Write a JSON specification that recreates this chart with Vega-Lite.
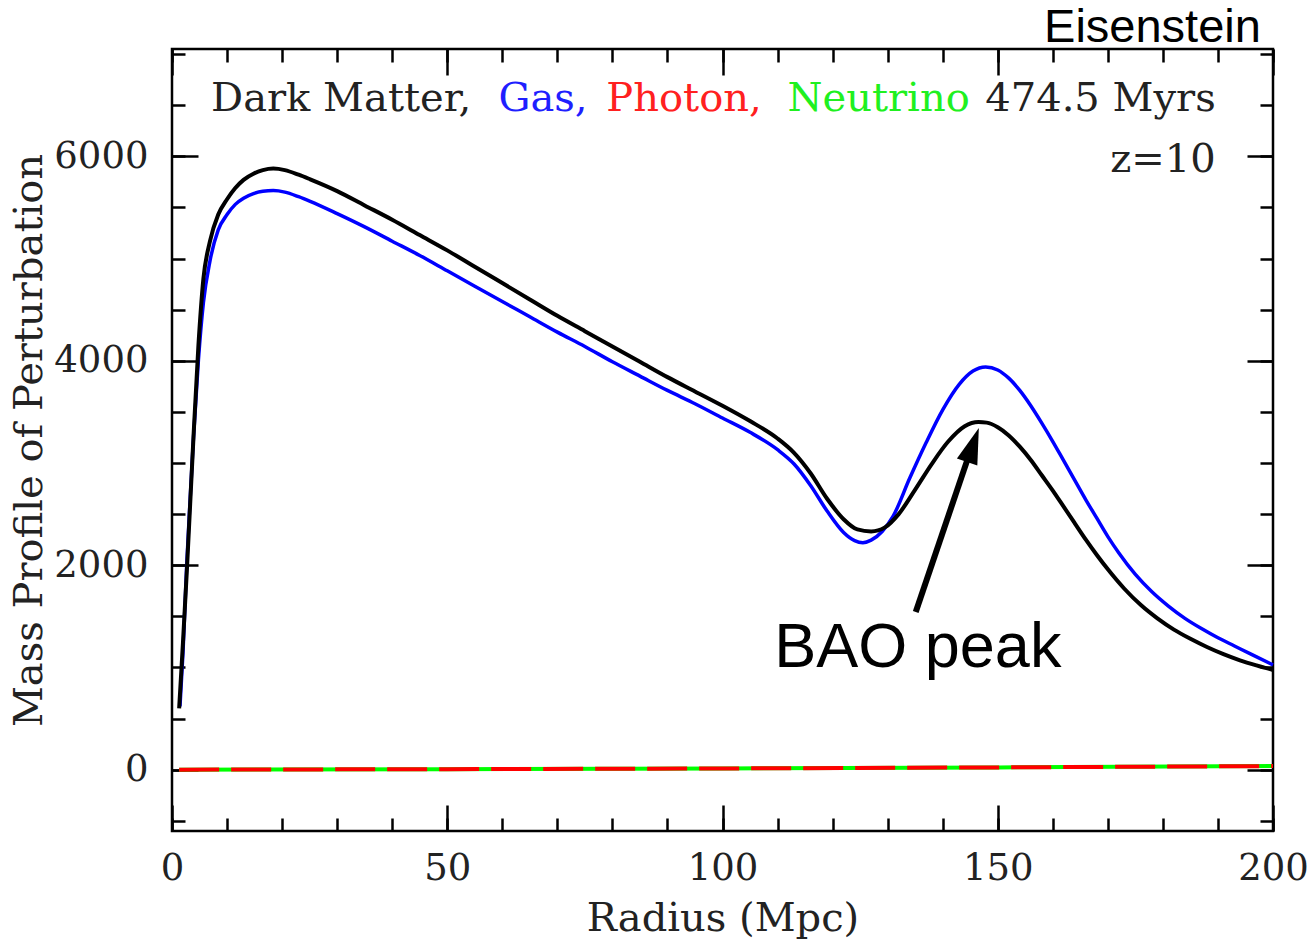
{
  "$schema": "https://vega.github.io/schema/vega-lite/v6.json",
  "width": 1101,
  "height": 782,
  "autosize": "none",
  "padding": {"left": 172, "top": 49, "right": 40, "bottom": 111},
  "background": "white",
  "config": {
    "view": {"stroke": "#000", "strokeWidth": 2.5},
    "axis": {
      "domain": false, "grid": false,
      "labelFont": "DejaVu Serif", "titleFont": "DejaVu Serif",
      "labelColor": "#222", "titleColor": "#222",
      "labelFontWeight": "normal", "titleFontWeight": "normal",
      "tickColor": "#000", "tickWidth": 2.5,
      "labelOverlap": false, "labelFlush": false, "format": "d"
    }
  },
  "datasets": {
    "dm": [
      {"r": 1.3, "v": 600}, {"r": 2.0, "v": 1250}, {"r": 2.7, "v": 1950}, {"r": 3.3, "v": 2600},
      {"r": 3.9, "v": 3250}, {"r": 4.8, "v": 4150}, {"r": 5.7, "v": 4800}, {"r": 6.9, "v": 5170},
      {"r": 8.4, "v": 5430}, {"r": 10, "v": 5580}, {"r": 11.5, "v": 5690}, {"r": 13, "v": 5770},
      {"r": 14.8, "v": 5830}, {"r": 16.5, "v": 5865}, {"r": 18.4, "v": 5880}, {"r": 20.5, "v": 5865},
      {"r": 23, "v": 5820}, {"r": 25.1, "v": 5775}, {"r": 30, "v": 5660}, {"r": 35, "v": 5520}, {"r": 40, "v": 5380},
      {"r": 45, "v": 5230}, {"r": 50, "v": 5080}, {"r": 55, "v": 4920}, {"r": 60, "v": 4760},
      {"r": 65, "v": 4600}, {"r": 70, "v": 4440}, {"r": 75, "v": 4290}, {"r": 80, "v": 4140},
      {"r": 85, "v": 3990}, {"r": 90, "v": 3840}, {"r": 95, "v": 3700}, {"r": 100, "v": 3560},
      {"r": 105, "v": 3410}, {"r": 110, "v": 3240}, {"r": 113, "v": 3100}, {"r": 116, "v": 2900},
      {"r": 119, "v": 2650}, {"r": 122, "v": 2450}, {"r": 124.5, "v": 2350}, {"r": 127, "v": 2330},
      {"r": 129.5, "v": 2370}, {"r": 132, "v": 2500}, {"r": 135, "v": 2740}, {"r": 138, "v": 2990},
      {"r": 141, "v": 3210}, {"r": 144, "v": 3360}, {"r": 146.5, "v": 3400}, {"r": 148, "v": 3395},
      {"r": 150, "v": 3350}, {"r": 152, "v": 3270}, {"r": 154, "v": 3160}, {"r": 156, "v": 3030},
      {"r": 158, "v": 2880}, {"r": 160, "v": 2730}, {"r": 162, "v": 2570}, {"r": 164, "v": 2410},
      {"r": 166, "v": 2250}, {"r": 168, "v": 2100}, {"r": 170, "v": 1960}, {"r": 173, "v": 1770},
      {"r": 176, "v": 1610}, {"r": 179, "v": 1480}, {"r": 182, "v": 1370}, {"r": 185, "v": 1280},
      {"r": 188, "v": 1200}, {"r": 191, "v": 1130}, {"r": 194, "v": 1070}, {"r": 197, "v": 1020},
      {"r": 200, "v": 975}
    ],
    "gas": [
      {"r": 1.45, "v": 620}, {"r": 2.0, "v": 1150}, {"r": 2.67, "v": 2000}, {"r": 3.3, "v": 2650},
      {"r": 3.88, "v": 3225}, {"r": 4.8, "v": 4008}, {"r": 5.7, "v": 4566}, {"r": 6.9, "v": 4977},
      {"r": 8.4, "v": 5280}, {"r": 10, "v": 5430}, {"r": 11.5, "v": 5530}, {"r": 13, "v": 5590},
      {"r": 14.8, "v": 5635}, {"r": 16.5, "v": 5658}, {"r": 18.4, "v": 5665}, {"r": 20.5, "v": 5650},
      {"r": 23, "v": 5605}, {"r": 25.1, "v": 5560}, {"r": 30, "v": 5440}, {"r": 35, "v": 5310},
      {"r": 40, "v": 5170}, {"r": 45, "v": 5030}, {"r": 50, "v": 4880}, {"r": 55, "v": 4730},
      {"r": 60, "v": 4580}, {"r": 65, "v": 4430}, {"r": 70, "v": 4280}, {"r": 75, "v": 4140},
      {"r": 80, "v": 3990}, {"r": 85, "v": 3850}, {"r": 90, "v": 3710}, {"r": 95, "v": 3580},
      {"r": 100, "v": 3440}, {"r": 105, "v": 3300}, {"r": 110, "v": 3130}, {"r": 113, "v": 2990},
      {"r": 116, "v": 2780}, {"r": 119, "v": 2530}, {"r": 122, "v": 2320}, {"r": 124, "v": 2240},
      {"r": 125.5, "v": 2220}, {"r": 127, "v": 2245}, {"r": 129, "v": 2330}, {"r": 131, "v": 2480},
      {"r": 134, "v": 2850}, {"r": 137, "v": 3200}, {"r": 140, "v": 3520}, {"r": 143, "v": 3770},
      {"r": 145.5, "v": 3900}, {"r": 147.8, "v": 3940}, {"r": 150, "v": 3910}, {"r": 152, "v": 3830},
      {"r": 154, "v": 3710}, {"r": 156, "v": 3560}, {"r": 158, "v": 3390}, {"r": 160, "v": 3210},
      {"r": 162, "v": 3020}, {"r": 164, "v": 2830}, {"r": 166, "v": 2640}, {"r": 168, "v": 2460},
      {"r": 170, "v": 2280}, {"r": 172, "v": 2120}, {"r": 175, "v": 1910}, {"r": 178, "v": 1740},
      {"r": 181, "v": 1600}, {"r": 184, "v": 1480}, {"r": 187, "v": 1380}, {"r": 190, "v": 1290},
      {"r": 193, "v": 1210}, {"r": 196, "v": 1130}, {"r": 200, "v": 1025}
    ],
    "photon": [
      {"r": 1.3, "v": 0}, {"r": 50, "v": 5}, {"r": 100, "v": 12}, {"r": 150, "v": 22}, {"r": 200, "v": 35}
    ],
    "one": [{}]
  },
  "layer": [
    {
      "data": {"name": "photon"},
      "mark": {"type": "line", "color": "#00ff00", "strokeWidth": 4},
      "encoding": {
        "x": {"field": "r", "type": "quantitative", "scale": {"domain": [0, 200], "nice": false, "zero": false},
          "axis": {"orient": "bottom", "values": [0, 50, 100, 150, 200], "ticks": false, "labelFontSize": 37, "labelPadding": 19,
            "title": "Radius (Mpc)", "titleFontSize": 40, "titlePadding": 12}},
        "y": {"field": "v", "type": "quantitative", "scale": {"domain": [-600, 7050], "nice": false, "zero": false},
          "axis": {"orient": "left", "values": [0, 2000, 4000, 6000], "ticks": false, "labelFontSize": 37, "labelPadding": 24,
            "title": "Mass Profile of Perturbation", "titleFontSize": 40, "titlePadding": 4}}
      }
    },
    {
      "data": {"name": "photon"},
      "mark": {"type": "line", "color": "#ff0000", "strokeWidth": 4, "strokeDash": [40, 12]},
      "encoding": {
        "x": {"field": "r", "type": "quantitative", "scale": {"domain": [0, 200], "nice": false, "zero": false},
          "axis": {"orient": "bottom", "values": [0, 50, 100, 150, 200], "labels": false, "tickSize": -26, "title": null}},
        "y": {"field": "v", "type": "quantitative", "scale": {"domain": [-600, 7050], "nice": false, "zero": false},
          "axis": {"orient": "left", "values": [0, 2000, 4000, 6000], "labels": false, "tickSize": -26, "title": null}}
      }
    },
    {
      "data": {"name": "gas"},
      "mark": {"type": "line", "color": "#0000ff", "strokeWidth": 3.5, "interpolate": "monotone"},
      "encoding": {
        "x": {"field": "r", "type": "quantitative", "scale": {"domain": [0, 200], "nice": false, "zero": false},
          "axis": {"orient": "top", "values": [0,10,20,30,40,50,60,70,80,90,100,110,120,130,140,150,160,170,180,190,200], "labels": false, "tickSize": -13, "title": null}},
        "y": {"field": "v", "type": "quantitative", "scale": {"domain": [-600, 7050], "nice": false, "zero": false},
          "axis": {"orient": "right", "values": [-500,0,500,1000,1500,2000,2500,3000,3500,4000,4500,5000,5500,6000,6500,7000], "labels": false, "tickSize": -13, "title": null}}
      }
    },
    {
      "data": {"name": "dm"},
      "mark": {"type": "line", "color": "#000000", "strokeWidth": 4, "interpolate": "monotone"},
      "encoding": {
        "x": {"field": "r", "type": "quantitative", "scale": {"domain": [0, 200], "nice": false, "zero": false},
          "axis": {"orient": "top", "values": [0, 50, 100, 150, 200], "labels": false, "tickSize": -26, "title": null}},
        "y": {"field": "v", "type": "quantitative", "scale": {"domain": [-600, 7050], "nice": false, "zero": false},
          "axis": {"orient": "right", "values": [0, 2000, 4000, 6000], "labels": false, "tickSize": -26, "title": null}}
      }
    },
    {
      "data": {"name": "one"},
      "mark": {"type": "text", "text": "Dark Matter,", "align": "left", "baseline": "alphabetic", "font": "DejaVu Serif", "fontSize": 40, "color": "#222"},
      "encoding": {
        "x": {"datum": 7.1, "type": "quantitative", "scale": {"domain": [0, 200], "nice": false, "zero": false},
          "axis": {"orient": "bottom", "values": [0,10,20,30,40,50,60,70,80,90,100,110,120,130,140,150,160,170,180,190,200], "labels": false, "tickSize": -13, "title": null}},
        "y": {"datum": 6443, "type": "quantitative", "scale": {"domain": [-600, 7050], "nice": false, "zero": false},
          "axis": {"orient": "left", "values": [-500,0,500,1000,1500,2000,2500,3000,3500,4000,4500,5000,5500,6000,6500,7000], "labels": false, "tickSize": -13, "title": null}}
      }
    },
    {
      "data": {"name": "one"},
      "mark": {"type": "text", "text": "Gas,", "align": "left", "baseline": "alphabetic", "font": "DejaVu Serif", "fontSize": 40, "color": "#1f1fff"},
      "encoding": {"x": {"datum": 59.3, "type": "quantitative", "axis": null}, "y": {"datum": 6443, "type": "quantitative", "axis": null}}
    },
    {
      "data": {"name": "one"},
      "mark": {"type": "text", "text": "Photon,", "align": "left", "baseline": "alphabetic", "font": "DejaVu Serif", "fontSize": 40, "color": "#ff2020"},
      "encoding": {"x": {"datum": 78.9, "type": "quantitative", "axis": null}, "y": {"datum": 6443, "type": "quantitative", "axis": null}}
    },
    {
      "data": {"name": "one"},
      "mark": {"type": "text", "text": "Neutrino", "align": "left", "baseline": "alphabetic", "font": "DejaVu Serif", "fontSize": 40, "color": "#20f020"},
      "encoding": {"x": {"datum": 111.8, "type": "quantitative", "axis": null}, "y": {"datum": 6443, "type": "quantitative", "axis": null}}
    },
    {
      "data": {"name": "one"},
      "mark": {"type": "text", "text": "474.5 Myrs", "align": "right", "baseline": "alphabetic", "font": "DejaVu Serif", "fontSize": 40, "color": "#222"},
      "encoding": {"x": {"datum": 189.6, "type": "quantitative", "axis": null}, "y": {"datum": 6443, "type": "quantitative", "axis": null}}
    },
    {
      "data": {"name": "one"},
      "mark": {"type": "text", "text": "z=10", "align": "right", "baseline": "alphabetic", "font": "DejaVu Serif", "fontSize": 40, "color": "#222"},
      "encoding": {"x": {"datum": 189.6, "type": "quantitative", "axis": null}, "y": {"datum": 5847, "type": "quantitative", "axis": null}}
    },
    {
      "data": {"name": "one"},
      "mark": {"type": "text", "text": "Eisenstein", "align": "right", "baseline": "alphabetic", "font": "Liberation Sans", "fontSize": 47, "color": "#000"},
      "encoding": {"x": {"datum": 197.8, "type": "quantitative", "axis": null}, "y": {"datum": 7118, "type": "quantitative", "axis": null}}
    },
    {
      "data": {"name": "one"},
      "mark": {"type": "text", "text": "BAO peak", "align": "left", "baseline": "alphabetic", "font": "Liberation Sans", "fontSize": 63, "color": "#000"},
      "encoding": {"x": {"datum": 109.4, "type": "quantitative", "axis": null}, "y": {"datum": 1004, "type": "quantitative", "axis": null}}
    },
    {
      "data": {"name": "one"},
      "mark": {"type": "rule", "color": "#000", "strokeWidth": 6},
      "encoding": {
        "x": {"datum": 135.1, "type": "quantitative", "axis": null}, "y": {"datum": 1542, "type": "quantitative", "axis": null},
        "x2": {"datum": 144.6}, "y2": {"datum": 3050}
      }
    },
    {
      "data": {"name": "one"},
      "mark": {"type": "point", "shape": "M0,-1L0.6,1L-0.6,1Z", "filled": true, "size": 1296, "angle": 19, "color": "#000", "opacity": 1},
      "encoding": {"x": {"datum": 145.5, "type": "quantitative", "axis": null}, "y": {"datum": 3176, "type": "quantitative", "axis": null}}
    }
  ],
  "resolve": {"axis": {"x": "independent", "y": "independent"}}
}
